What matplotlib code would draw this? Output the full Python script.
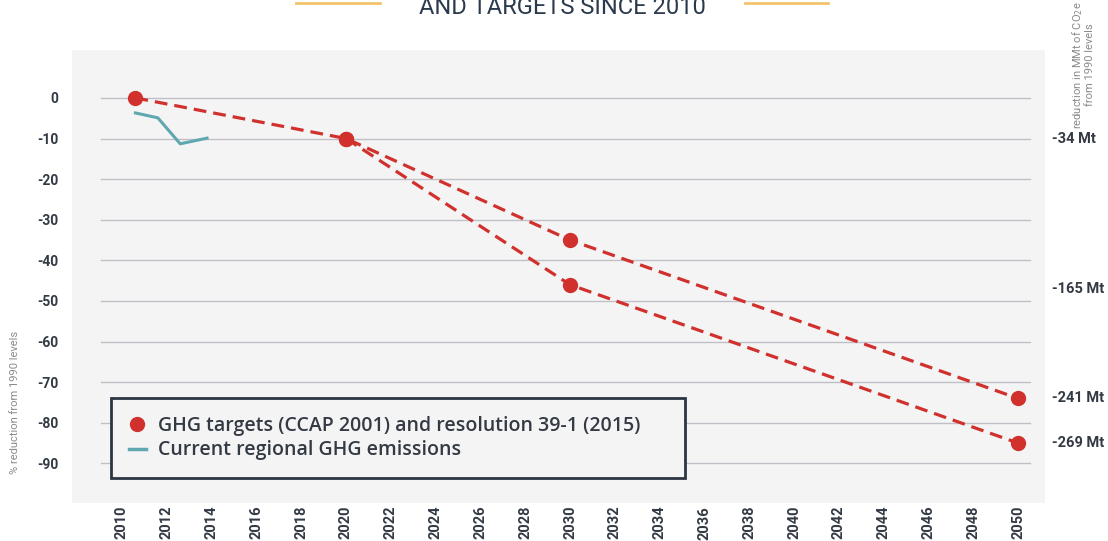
import matplotlib
matplotlib.use("Agg")
import matplotlib.pyplot as plt
from matplotlib.lines import Line2D

# data
target_years_a = [2010.6, 2020, 2030, 2050]
target_pct_a = [0, -10, -35, -74]
target_years_b = [2020, 2030, 2050]
target_pct_b = [-10, -46, -85]

current_years = [2010.6, 2011.6, 2012.6, 2013.8]
current_pct = [-3.7, -4.9, -11.3, -9.9]

mt_labels = ["-34 Mt", "-165 Mt", "-241 Mt", "-269 Mt"]
mt_pct = [-10, -47, -74, -85]

yticks = [0, -10, -20, -30, -40, -50, -60, -70, -80, -90]
xticks = list(range(2010, 2051, 2))

red = "#d0312d"
teal = "#5fa8b0"
dark = "#333a44"
navy = "#2b3544"

plt.rcParams['font.family'] = ['Roboto', 'DejaVu Sans']

fig = plt.figure(figsize=(11.08, 5.41), dpi=100)
ax = fig.add_axes([72 / 1108, 1 - 503 / 541, 973 / 1108, 453 / 541])
ax.set_facecolor("#f5f4f5")
for s in ax.spines.values():
    s.set_visible(False)

ax.set_xlim(2007.77, 2051.2)
ax.set_ylim(-99.75, 11.8)

for y in yticks:
    ax.axhline(y, xmin=0.03, xmax=0.985, color="#bfbfc5", lw=1, zorder=1)

ax.plot(target_years_a, target_pct_a, color=red, lw=2.3, ls=(0, (4, 2.2)),
        marker="o", ms=10, zorder=3)
ax.plot(target_years_b, target_pct_b, color=red, lw=2.3, ls=(0, (4, 2.2)),
        marker="o", ms=10, zorder=3)
ax.plot(current_years, current_pct, color=teal, lw=2.2, zorder=3)

ax.set_yticks(yticks)
ax.set_yticklabels([str(v) for v in yticks], fontsize=10, fontweight="bold", color=dark)
ax.set_xticks(xticks)
ax.set_xticklabels([str(v) for v in xticks], rotation=90, fontsize=10.5,
                   fontweight="bold", color=dark)
ax.tick_params(length=0)
ax.tick_params(axis="y", pad=10)
ax.tick_params(axis="x", pad=2)

for lab, y in zip(mt_labels, mt_pct):
    ax.text(1.007, y, lab, transform=ax.get_yaxis_transform(), fontsize=10.5,
            fontweight="bold", color=dark, va="center", ha="left")

handles = [
    Line2D([], [], color=red, marker="o", ms=10, ls="none"),
    Line2D([], [], color=teal, lw=2.5),
]
leg = ax.legend(handles, ["GHG targets (CCAP 2001) and resolution 39-1 (2015)",
                          "Current regional GHG emissions"],
                loc="lower left", bbox_to_anchor=(39 / 973, 25 / 453, 574 / 973, 89 / 453),
                mode="expand", borderaxespad=0, frameon=True, fancybox=False,
                prop={"family": ["Open Sans", "DejaVu Sans"], "weight": "semibold",
                      "size": 14},
                handlelength=0.9, handletextpad=0.6,
                borderpad=0.9, labelspacing=0.25)
leg.get_frame().set_edgecolor(navy)
leg.get_frame().set_linewidth(2)
leg.get_frame().set_facecolor("#f5f4f5")
leg.get_frame().set_alpha(1)
for t in leg.get_texts():
    t.set_color(dark)

fig.text(15 / 1108, 1 - 402 / 541, "% reduction from 1990 levels", rotation=90,
         fontsize=8, color="#8a8a8a", ha="center", va="center")
fig.text(1083 / 1108, 1 - 65 / 541, "reduction in MMt of CO$_2$e\nfrom 1990 levels",
         rotation=90, fontsize=8, color="#8a8a8a", ha="center", va="center",
         linespacing=1.0)

fig.text(562 / 1108, 1 - 8 / 541, "AND TARGETS SINCE 2010", fontsize=17,
         color="#2b3a4d", ha="center", va="center")
fig.add_artist(Line2D([296 / 1108, 380 / 1108], [1 - 3 / 541] * 2, color="#f2c36b", lw=2))
fig.add_artist(Line2D([745 / 1108, 828 / 1108], [1 - 3 / 541] * 2, color="#f2c36b", lw=2))

fig.savefig("out.png", dpi=100, facecolor="white")
